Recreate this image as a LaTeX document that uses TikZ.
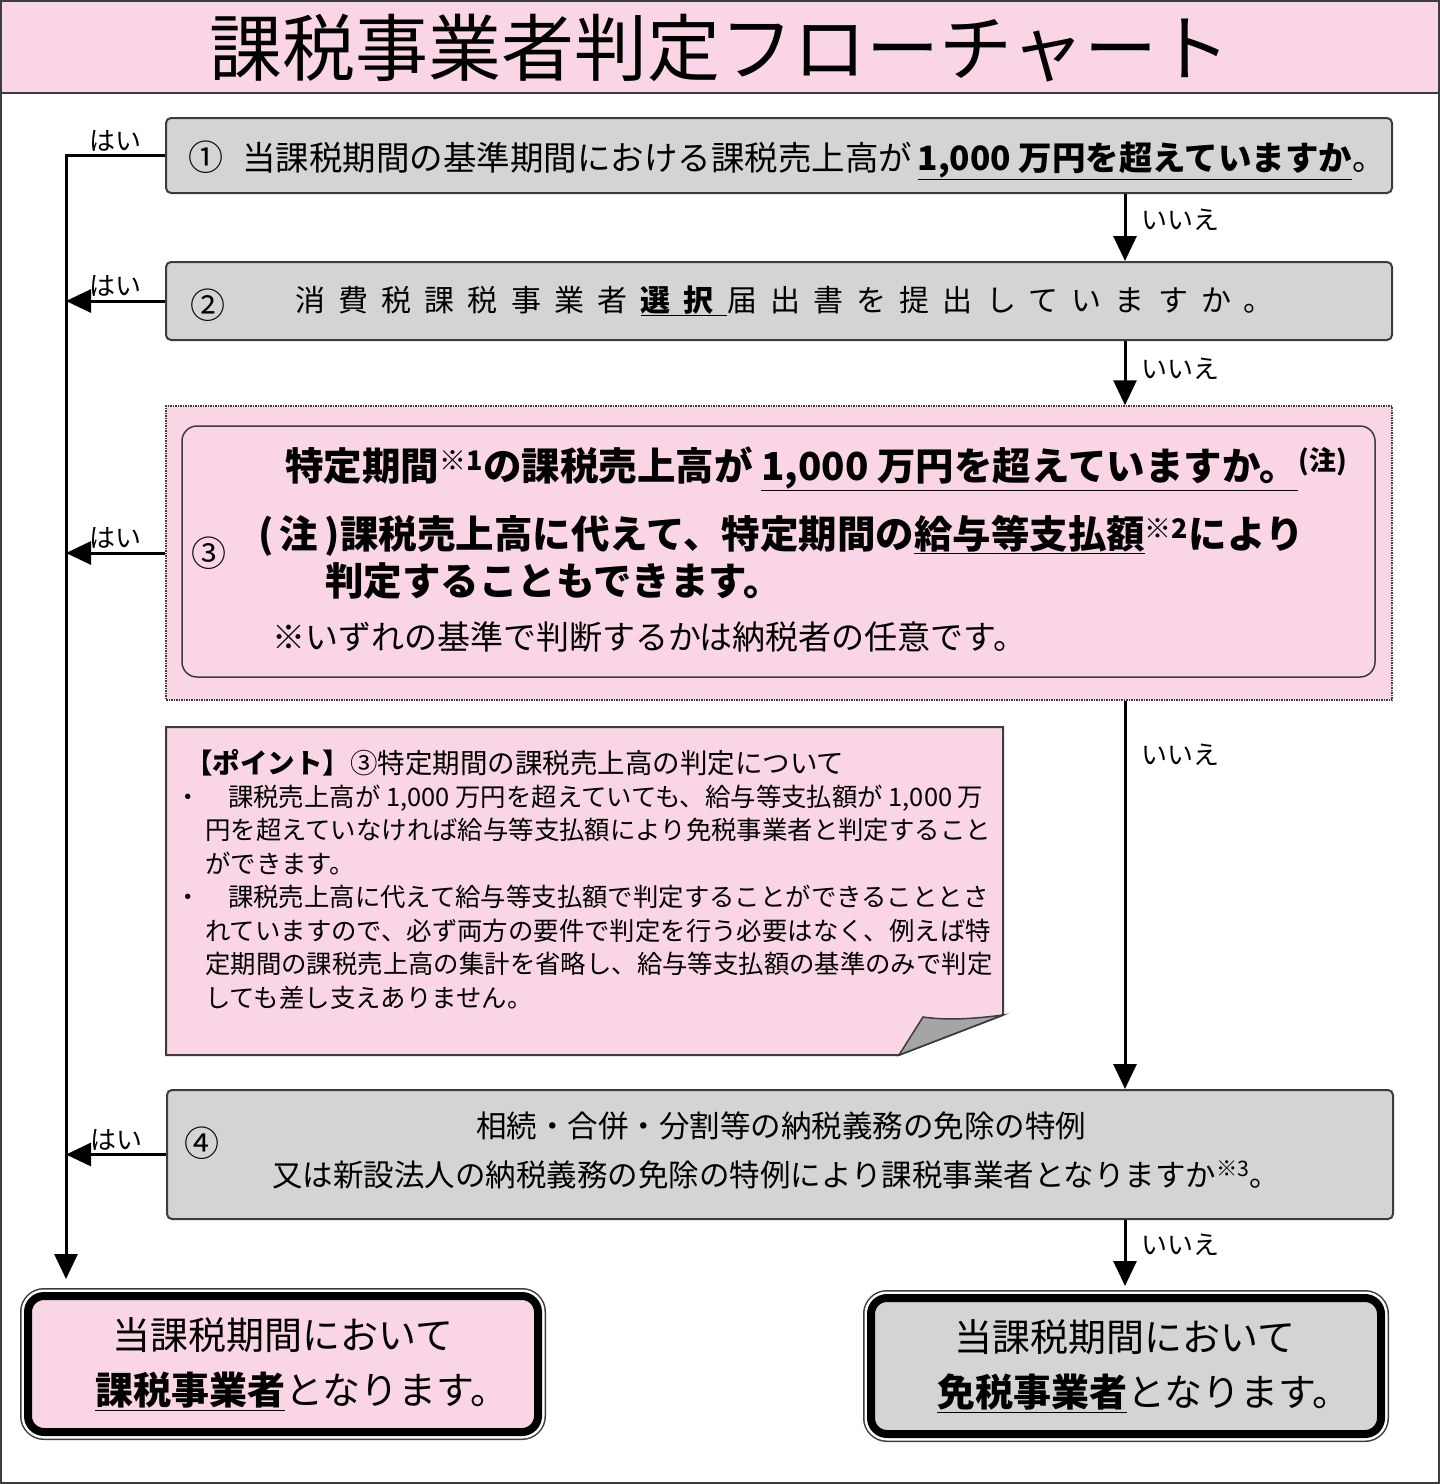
\documentclass[tikz,border=0pt]{standalone}
\usepackage{fontspec}
\setmainfont{Noto Sans CJK JP}
\usetikzlibrary{arrows.meta}

\definecolor{momo}{RGB}{249,213,229}
\definecolor{nezumi}{RGB}{211,212,214}
\definecolor{sen}{RGB}{60,60,60}
\definecolor{orikaeshi}{RGB}{165,165,167}

\tikzset{
  toi/.style={draw=sen, line width=2pt, fill=nezumi, rounded corners=5pt, minimum width=1226pt, inner sep=0pt},
  kekka/.style={fill=#1, draw=black, line width=8pt, rounded corners=16pt, inner sep=0pt,
    preaction={draw=sen, line width=16pt}, preaction={draw=white, line width=13pt},
    minimum width=510pt, minimum height=136pt, align=left, font=\fontsize{38}{55}\selectfont},
  bun/.style={anchor=base west, inner sep=0pt, font=\fontsize{#1}{#1}\selectfont},
  maru/.style={anchor=base west, inner sep=0pt, font=\fontsize{35}{35}\selectfont},
  hai/.style={above, inner sep=3pt, font=\fontsize{26}{26}\selectfont},
  iie/.style={anchor=west, xshift=12pt, inner sep=3pt, font=\fontsize{26}{26}\selectfont},
  flow/.style={line width=3pt, ->}
}

\begin{document}
\begin{tikzpicture}[x=1pt, y=-1pt, >={Triangle[length=25pt,width=23pt]}]
    \useasboundingbox (0,0) rectangle (1440,1484);

    % 外枠とタイトル
    \fill[momo] (2,2) rectangle (1438,93);
    \draw[sen, line width=2pt] (1,1) rectangle (1439,1483);
    \draw[sen, line width=2pt] (1,93) -- (1439,93);
    \node[anchor=base, inner sep=0pt, font=\fontsize{73}{73}\selectfont] (title) at (720,75) {課税事業者判定フローチャート};

    % 判定の箱 ①～④
    \node[toi, minimum height=75pt] (q1) at (779,155.5) {};
    \node[toi, minimum height=78pt] (q2) at (779,301) {};
    \node[draw=sen, densely dotted, line width=1.5pt, fill=momo, minimum width=1226pt, minimum height=294pt] (q3) at (779,553) {};
    \node[draw=sen, line width=1.5pt, rounded corners=15pt, minimum width=1193pt, minimum height=251pt] (q3in) at (778.5,551.5) {};
    \node[toi, minimum height=129pt] (q4) at (780,1154.5) {};

    % ①
    \node[maru] (maru1) at (188,170) {①};
    \node[bun=33.5] (t1) at (242,170) {当課税期間の基準期間における課税売上高が\,\underline{\textbf{1,000 万円を超えていますか}}。};

    % ②
    \node[maru] (maru2) at (190,318) {②};
    \node[bun=30] (t2) at (295,311) {\addfontfeatures{LetterSpace=44}消費税課税事業者\hspace{13pt}\underline{\textbf{選択}}届出書を提出していますか。};

    % ③
    \node[maru] (maru3) at (191,566) {③};
    \node[bun=38.5] (t3a) at (285,480) {\bfseries 特定期間\textsuperscript{※1}の課税売上高が\ \underline{1,000 万円を超えていますか。}\textsuperscript{(注)}};
    \node[bun=38.5] (t3b) at (258,548) {\bfseries (\,注\,)課税売上高に代えて、特定期間の\underline{給与等支払額}\textsuperscript{※2}により};
    \node[bun=38.5] (t3c) at (325,595) {\bfseries 判定することもできます。};
    \node[bun=33] (t3d) at (272,649) {※いずれの基準で判断するかは納税者の任意です。};

    % ポイント（折り返し付きのメモ）
    \draw[sen, line width=2pt, fill=momo] (166,727) -- (1003,727) -- (1003,1015) -- (899,1055) -- (166,1055) -- cycle;
    \draw[sen, line width=1.5pt, fill=orikaeshi] (899,1055) -- (923,1017) .. controls (950,1021) and (980,1018) .. (1003,1015) -- cycle;
    \node[bun=27.5] (pt) at (185,773) {\textbf{【ポイント】}③特定期間の課税売上高の判定について};
    \node[bun=25.4, align=left, font=\fontsize{25.4}{33.5}\selectfont] (pb) at (175,1007) {%
      ・\hspace{27.6pt}課税売上高が 1,000 万円を超えていても、給与等支払額が 1,000 万\\
      \hspace*{30pt}円を超えていなければ給与等支払額により免税事業者と判定すること\\
      \hspace*{30pt}ができます。\\
      ・\hspace{27.6pt}課税売上高に代えて給与等支払額で判定することができることとさ\\
      \hspace*{30pt}れていますので、必ず両方の要件で判定を行う必要はなく、例えば特\\
      \hspace*{30pt}定期間の課税売上高の集計を省略し、給与等支払額の基準のみで判定\\
      \hspace*{30pt}しても差し支えありません。};

    % ④
    \node[maru] (maru4) at (184,1156) {④};
    \node[bun=30.5, anchor=base] (t4a) at (781,1137) {相続・合併・分割等の納税義務の免除の特例};
    \node[bun=30.5] (t4b) at (272,1186) {又は新設法人の納税義務の免除の特例により課税事業者となりますか\textsuperscript{※3}。};

    % 結果
    \node[kekka=momo] (taxable) at (283,1364) {\hspace*{55pt}当課税期間において\\\hspace*{38pt}\underline{\textbf{課税事業者}}となります。};
    \node[kekka=nezumi] (exempt) at (1126,1366) {\hspace*{53pt}当課税期間において\\\hspace*{36pt}\underline{\textbf{免税事業者}}となります。};

    % 矢印
    \coordinate (trunk) at (66,0);
    \coordinate (nocol) at (1125,0);
    \draw[flow] (q1.west) -- node[hai] (yes1) {はい} (q1.west -| trunk) -- ([yshift=13pt]taxable.north -| trunk);
    \draw[flow] (q2.west) -- node[hai] (yes2) {はい} (q2.west -| trunk);
    \draw[flow] (q3.west) -- node[hai] (yes3) {はい} (q3.west -| trunk);
    \draw[flow] (q4.west) -- node[hai] (yes4) {はい} (q4.west -| trunk);
    \draw[flow] (q1.south -| nocol) -- node[pos=.39, iie] (no1) {いいえ} (q2.north -| nocol);
    \draw[flow] (q2.south -| nocol) -- node[pos=.43, iie] (no2) {いいえ} (q3.north -| nocol);
    \draw[flow] (q3.south -| nocol) -- node[pos=.14, iie] (no3) {いいえ} (q4.north -| nocol);
    \draw[flow] (q4.south -| nocol) -- node[pos=.38, iie] (no4) {いいえ} ([yshift=8pt]exempt.north -| nocol);
\end{tikzpicture}
\end{document}
